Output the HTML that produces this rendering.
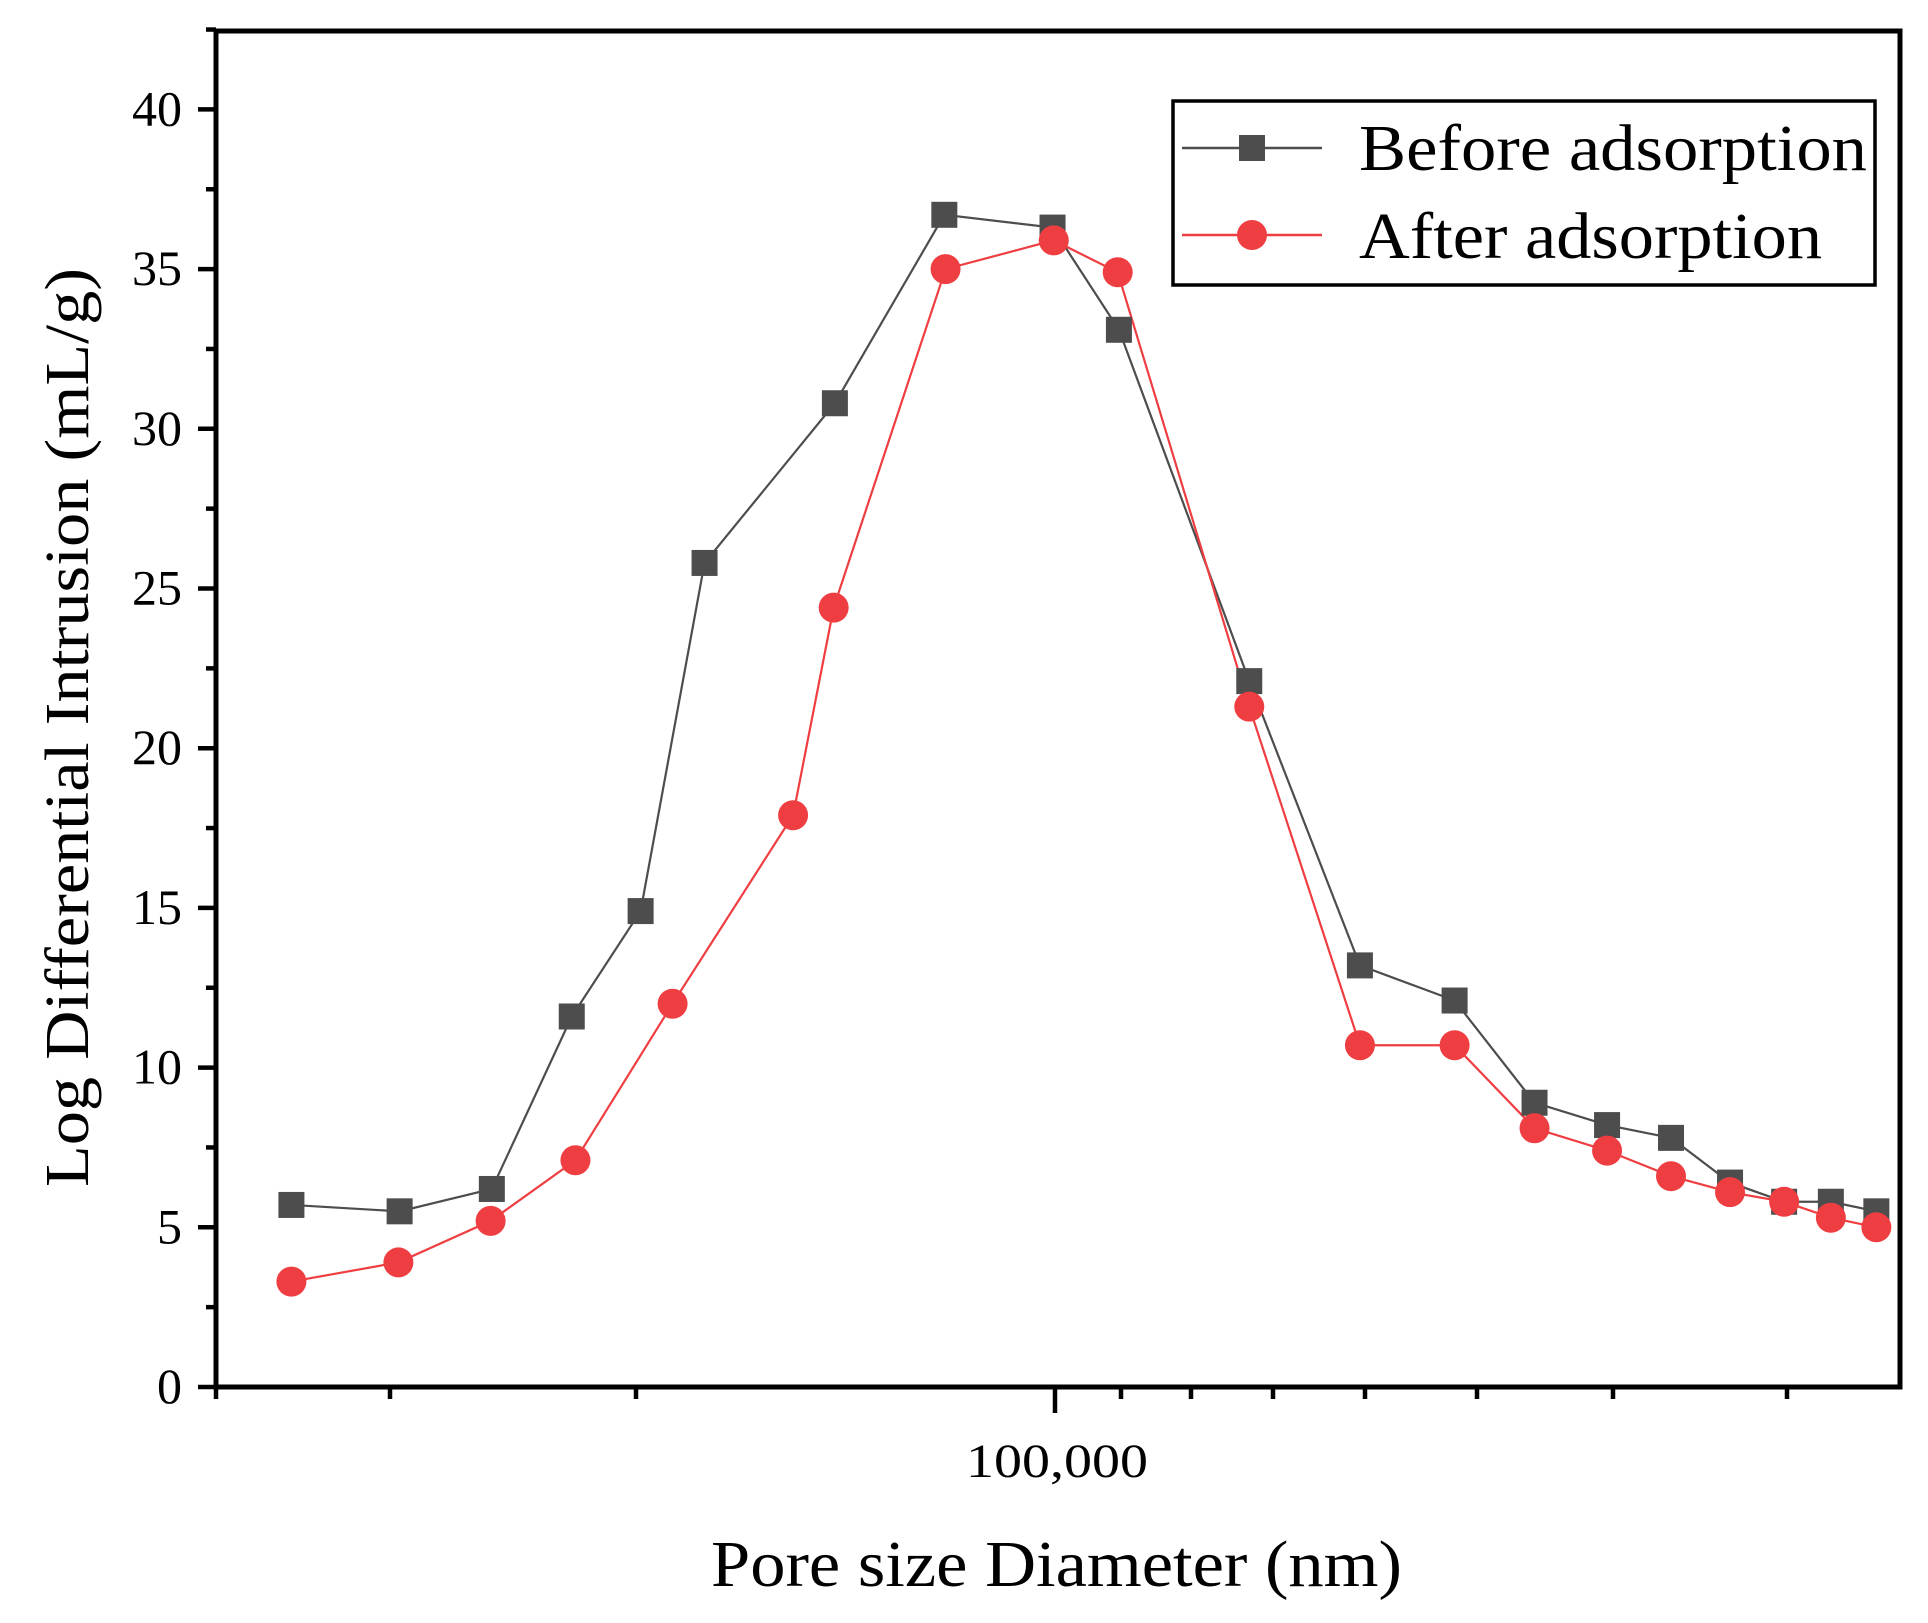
<!DOCTYPE html>
<html><head><meta charset="utf-8"><style>html,body{margin:0;padding:0;background:#fff}svg{display:block}</style></head>
<body>
<svg id="c" width="1928" height="1623" xmlns="http://www.w3.org/2000/svg" font-family="Liberation Serif, serif">
</svg>
<script>
const s=1928/1568;
const L=216,R=1900,T=31,B=1387;
const yv=v=>B-(B-109.4)*v/40;
let h='';
h+=`<rect x="${L}" y="${T}" width="${R-L}" height="${B-T}" fill="none" stroke="#000" stroke-width="5"/>`;
for(let v=0;v<=42.5;v+=2.5){const y=yv(v);const maj=(v%5===0);h+=`<line x1="${L}" x2="${L-(maj?18:10)}" y1="${y}" y2="${y}" stroke="#000" stroke-width="4.5"/>`;
 if(maj&&v<=40)h+=`<text x="182" y="${y+16}" font-size="50" text-anchor="end">${v}</text>`;}
[216,390,636,1121,1191,1273,1365,1477,1613,1787].forEach(x=>h+=`<line x1="${x}" x2="${x}" y1="${B}" y2="${B+12}" stroke="#000" stroke-width="4.5"/>`);
h+=`<line x1="1055" x2="1055" y1="${B}" y2="${B+26}" stroke="#000" stroke-width="4.5"/>`;
h+=`<text x="966" y="1477" font-size="48" textLength="182" lengthAdjust="spacingAndGlyphs">100,000</text>`;
h+=`<text x="711" y="1586" font-size="66" textLength="691" lengthAdjust="spacingAndGlyphs">Pore size Diameter (nm)</text>`;
h+=`<text transform="translate(88 1187) rotate(-90)" font-size="62" textLength="919" lengthAdjust="spacingAndGlyphs">Log Differential Intrusion (mL/g)</text>`;
const before=[[237,5.7],[325,5.5],[400,6.2],[465,11.6],[521,14.9],[573,25.8],[679,30.8],[768,36.7],[856,36.3],[910,33.1],[1016,22.1],[1106,13.2],[1183,12.1],[1248,8.9],[1307,8.2],[1359,7.8],[1407,6.4],[1451,5.8],[1489,5.8],[1526,5.5]];
const after=[[237,3.3],[324,3.9],[399,5.2],[468,7.1],[547,12.0],[645,17.9],[678,24.4],[769,35.0],[857,35.9],[909,34.9],[1016,21.3],[1106,10.7],[1183,10.7],[1248,8.1],[1307,7.4],[1359,6.6],[1407,6.1],[1451,5.8],[1489,5.3],[1526,5.0]];
const P=d=>d.map(([x,v])=>[x*s,yv(v)]);
const bp=P(before),ap=P(after);
const GC='#4d4d4d',RC='#ef3e42';
h+=`<polyline points="${bp.map(p=>p.join(',')).join(' ')}" fill="none" stroke="${GC}" stroke-width="2.2"/>`;
h+=`<polyline points="${ap.map(p=>p.join(',')).join(' ')}" fill="none" stroke="${RC}" stroke-width="2.2"/>`;
bp.forEach(([x,y])=>h+=`<rect x="${x-13}" y="${y-13}" width="26" height="26" fill="${GC}"/>`);
ap.forEach(([x,y])=>h+=`<circle cx="${x}" cy="${y}" r="15" fill="${RC}"/>`);
h+=`<rect x="1173" y="101" width="702" height="184" fill="#fff" stroke="#000" stroke-width="3.5"/>`;
h+=`<line x1="1182" x2="1322" y1="148" y2="148" stroke="${GC}" stroke-width="2.5"/><rect x="1239" y="135" width="26" height="26" fill="${GC}"/>`;
h+=`<line x1="1182" x2="1322" y1="235" y2="235" stroke="${RC}" stroke-width="2.5"/><circle cx="1252" cy="235" r="15" fill="${RC}"/>`;
h+=`<text x="1359" y="170" font-size="66" textLength="508" lengthAdjust="spacingAndGlyphs">Before adsorption</text>`;
h+=`<text x="1359" y="258" font-size="66" textLength="463" lengthAdjust="spacingAndGlyphs">After adsorption</text>`;
document.getElementById('c').innerHTML=h;
</script>
</body></html>
